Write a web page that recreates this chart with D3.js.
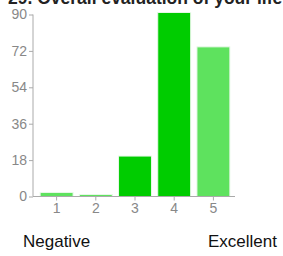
<!DOCTYPE html>
<html><head><meta charset="utf-8">
<script src="https://cdn.jsdelivr.net/npm/d3@7"></script>
<style>body{margin:0;background:#fff;}svg{display:block;}</style>
</head><body>
<svg id="c" width="283" height="256"></svg>
<script>
const title = "29. Overall evaluation of your life";
const categories = ["1","2","3","4","5"];
const values = [2, 1, 20, 91, 74];
const barColors = ["#5ee25e","#5ee25e","#00cc00","#00cc00","#5ee25e"];
const yTicks = [0,18,36,54,72,90];
const endLabels = ["Negative","Excellent"];

const svg = d3.select("#c");
const font = "Liberation Sans, Arial, sans-serif";
const x = d3.scaleBand().domain(categories).range([37,233]).paddingInner(0.16).paddingOuter(0.08);
const y = d3.scaleLinear().domain([0,90]).range([196.5,14.5]);

svg.append("text").attr("x",8).attr("y",4).attr("font-family",font)
  .attr("font-weight","bold").attr("font-size",17.5).attr("fill","#222").text(title);

svg.selectAll("rect.bar").data(values).enter().append("rect").attr("class","bar")
  .attr("x",(d,i)=>x(categories[i])).attr("width",x.bandwidth())
  .attr("y",d=>y(d)).attr("height",d=>y(0)-y(d))
  .attr("fill",(d,i)=>barColors[i]).attr("stroke","#e8f8e8").attr("stroke-width",1);

const ya = svg.append("g").attr("transform","translate(33,0)")
  .call(d3.axisLeft(y).tickValues(yTicks).tickSize(4).tickSizeOuter(4).tickPadding(2));
const xa = svg.append("g").attr("transform","translate(0,196.5)")
  .call(d3.axisBottom(x).tickSize(4).tickSizeOuter(0).tickPadding(3));
svg.selectAll(".domain").remove();
svg.append("line").attr("x1",33).attr("x2",33).attr("y1",14.5).attr("y2",196.5).attr("stroke","#aaa");
svg.append("line").attr("x1",33).attr("x2",235).attr("y1",196.5).attr("y2",196.5).attr("stroke","#aaa");
svg.selectAll(".tick line").attr("stroke","#aaa");
svg.selectAll(".tick text").attr("font-family",font).attr("font-size",14).attr("fill","#888");

svg.append("text").attr("x",23).attr("y",247).attr("font-family",font).attr("font-size",17).attr("fill","#111").text(endLabels[0]);
svg.append("text").attr("x",208).attr("y",247).attr("font-family",font).attr("font-size",17).attr("fill","#111").text(endLabels[1]);
</script>
</body></html>
